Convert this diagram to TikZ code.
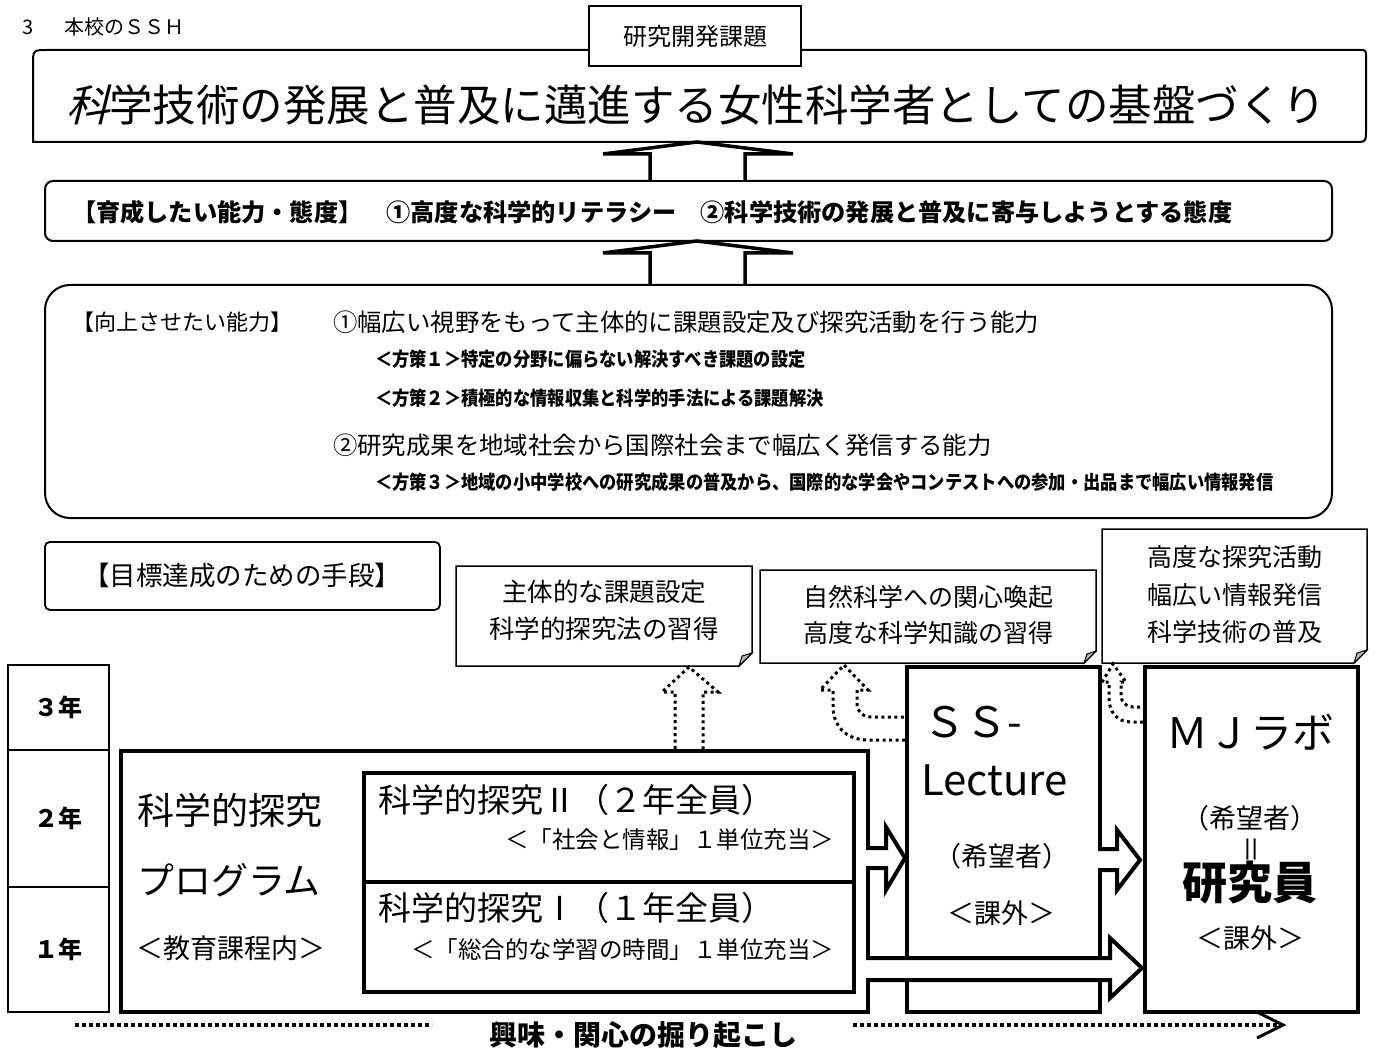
\documentclass[tikz,border=0pt]{standalone}
\usepackage{fontspec}
\setmainfont{Noto Sans CJK JP}
\newfontfamily\jpc[FakeStretch=0.9]{Noto Sans CJK JP}
\newfontfamily\jpsl[FakeSlant=0.25]{Noto Sans CJK JP}
\usetikzlibrary{calc}
\newcommand\fsz[1]{\fontsize{#1}{#1}\selectfont}
\tikzset{
  txt/.style={inner sep=0pt, outer sep=0pt},
  rbox/.style={draw, line width=2pt, anchor=north west, inner sep=0pt},
  yearbox/.style={draw, line width=1.5pt, anchor=north west, minimum width=101pt, inner sep=0pt},
  thickbox/.style={draw, line width=4pt, anchor=north west, inner sep=0pt},
  innerbox/.style={draw, line width=3.5pt, anchor=north west, inner sep=0pt, minimum width=490pt},
  callout/.style={draw, line width=1.5pt, fill=white, line join=miter},
  fold/.style={draw, line width=1pt, fill=black!30},
  hollow/.style={draw, line width=4pt, fill=white, line join=miter},
  uparrow/.style={draw, line width=3.5pt, fill=white, line join=miter},
  dotarrow/.style={draw, line width=3pt, dash pattern=on 3pt off 3.5pt},
  dotline/.style={draw, line width=4pt, dash pattern=on 4pt off 3pt},
}
\begin{document}
\begin{tikzpicture}[x=1pt,y=-1pt]
\useasboundingbox[fill=white] (0,0) rectangle (1377,1051);

% header
\node[txt,anchor=west,font=\fsz{20}] (h3) at (22,27) {3};
\node[txt,anchor=west,font=\fsz{20}] (hssh) at (64,27) {本校のＳＳＨ};

% title box
\draw[line width=2pt] (33,142) -- (33,65) .. controls (33,50) .. (48,50) -- (1359,50) .. controls (1366,50) .. (1366,57) -- (1366,130) .. controls (1366,142) .. (1354,142) -- cycle;
\node[draw,line width=1.5pt,fill=white,minimum width=212pt,minimum height=60pt,inner sep=0pt,font=\fsz{24}] (kadai) at (695,36) {研究開発課題};
\node[txt,anchor=west,font=\fsz{43.5}] (title) at (66,105) {{\jpsl 科}学技術の発展と普及に邁進する女性科学者としての基盤づくり};

% box 2
\node[rbox, rounded corners=8pt, minimum width=1287pt, minimum height=60pt] (ability) at (44,180) {};
\node[txt,anchor=west,font={\fsz{24.2}\bfseries}] (abilitytxt) at (72,212) {【育成したい能力・態度】　①高度な科学的リテラシー　②科学技術の発展と普及に寄与しようとする態度};

% up arrows
\draw[uparrow] (650,180) -- (650,154) -- (603,154) -- (697,142) -- (793,154) -- (745,154) -- (745,180);
\draw[uparrow] (650,284) -- (650,253) -- (603,253) -- (697,241) -- (793,253) -- (745,253) -- (745,284);

% box 3
\node[rbox, rounded corners=25pt, minimum width=1287pt, minimum height=233pt] (improve) at (44,284) {};
\node[txt,anchor=west,font=\fsz{22}] (imp0) at (72,322) {【向上させたい能力】};
\node[txt,anchor=west,font=\fsz{24.4}] (imp1) at (333,322) {①幅広い視野をもって主体的に課題設定及び探究活動を行う能力};
\node[txt,anchor=west,font={\jpc\bfseries\fsz{19.2}}] (pol1) at (375,359) {＜方策１＞特定の分野に偏らない解決すべき課題の設定};
\node[txt,anchor=west,font={\jpc\bfseries\fsz{19.2}}] (pol2) at (375,398) {＜方策２＞積極的な情報収集と科学的手法による課題解決};
\node[txt,anchor=west,font=\fsz{24.4}] (imp2) at (333,445) {②研究成果を地域社会から国際社会まで幅広く発信する能力};
\node[txt,anchor=west,font={\jpc\bfseries\fsz{19.2}}] (pol3) at (375,482) {＜方策３＞地域の小中学校への研究成果の普及から、国際的な学会やコンテストへの参加・出品まで幅広い情報発信};

% means box
\node[rbox, rounded corners=5pt, minimum width=395pt, minimum height=68pt, line width=1.8pt] (means) at (44,541) {};
\node[txt,font=\fsz{26.5}] (meanstxt) at (means.center) {【目標達成のための手段】};

% callouts
\draw[callout] (456,566) -- (752,566) -- (752,653) -- (739,666) -- (456,666) -- cycle;
\draw[fold] (752,653) -- (739,666) -- (742,656) -- cycle;
\node[txt,font=\fsz{25.5}] (c1a) at (604,592) {主体的な課題設定};
\node[txt,font=\fsz{25.5}] (c1b) at (604,629) {科学的探究法の習得};

\draw[callout] (760,570) -- (1096,570) -- (1096,651) -- (1084,663) -- (760,663) -- cycle;
\draw[fold] (1096,651) -- (1084,663) -- (1087,654) -- cycle;
\node[txt,font=\fsz{25}] (c2a) at (928,597) {自然科学への関心喚起};
\node[txt,font=\fsz{25}] (c2b) at (928,633) {高度な科学知識の習得};

\draw[callout] (1102,529) -- (1367,529) -- (1367,650) -- (1354,663) -- (1102,663) -- cycle;
\draw[fold] (1367,650) -- (1354,663) -- (1357,653) -- cycle;
\node[txt,font=\fsz{25}] (c3a) at (1235,557) {高度な探究活動};
\node[txt,font=\fsz{25}] (c3b) at (1235,595) {幅広い情報発信};
\node[txt,font=\fsz{25}] (c3c) at (1235,632) {科学技術の普及};

% year column
\node[yearbox, minimum height=85pt] (y3) at (7,664) {};
\node[yearbox, minimum height=137pt] (y2) at (7,749) {};
\node[yearbox, minimum height=125pt] (y1) at (7,886) {};
\node[txt,font={\fsz{24}\bfseries}] at (y3.center) {３年};
\node[txt,font={\fsz{24}\bfseries}] at (y2.center) {２年};
\node[txt,font={\fsz{24}\bfseries}] at (y1.center) {１年};

% program box
\node[thickbox, minimum width=747pt, minimum height=261pt] (prog) at (119,749) {};
\node[txt,anchor=west,font=\fsz{37}] (p1) at (137,810) {科学的探究};
\node[txt,anchor=west,font=\fsz{37}] (p2) at (137,880) {プログラム};
\node[txt,anchor=west,font=\fsz{27}] (p3) at (136,948) {＜教育課程内＞};

\node[innerbox, minimum height=109pt] (s2) at (362,771) {};
\node[innerbox, minimum height=110pt] (s1) at (362,880) {};
\node[txt,anchor=west,font=\fsz{33}] (s2a) at (378,800) {科学的探究Ⅱ（２年全員）};
\node[txt,anchor=east,font=\fsz{23.5}] (s2b) at (834,840) {＜「社会と情報」１単位充当＞};
\node[txt,anchor=west,font=\fsz{33}] (s1a) at (378,908) {科学的探究Ⅰ（１年全員）};
\node[txt,anchor=east,font=\fsz{23.5}] (s1b) at (834,950) {＜「総合的な学習の時間」１単位充当＞};

% SS-Lecture
\node[thickbox, minimum width=193pt, minimum height=345pt] (ss) at (905,665) {};
\node[txt,anchor=west,font=\fsz{42}] (ss1) at (923,722) {ＳＳ-};
\node[txt,anchor=west,font=\fsz{42}] (ss2) at (921,780) {Lecture};
\node[txt,font=\fsz{27}] (ss3) at (1002,856) {（希望者）};
\node[txt,font=\fsz{27}] (ss4) at (1001,913) {＜課外＞};

% MJ lab
\node[thickbox, minimum width=213pt, minimum height=345pt] (mj) at (1143,665) {};
\node[txt,font=\fsz{42}] (mj1) at (1250,732) {ＭＪラボ};
\node[txt,font=\fsz{27}] (mj2) at (1250,818) {（希望者）};
\node[txt,font={\fsz{20}\bfseries}] (mj3) at (1251,850) {\scalebox{2.2}[1.05]{‖}};
\node[txt,font={\fsz{45}\bfseries}] (mj4) at (1250,883) {研究員};
\node[txt,font=\fsz{27}] (mj5) at (1250,938) {＜課外＞};

% hollow right arrows
\draw[hollow] (866,848) -- (886,848) -- (886,827) -- (905,858) -- (886,890) -- (886,868) -- (866,868);
\draw[hollow] (1098,849) -- (1117,849) -- (1117,830) -- (1140,860) -- (1117,890) -- (1117,870) -- (1098,870);
\draw[hollow] (866,958) -- (1110,958) -- (1110,938) -- (1142,968) -- (1110,998) -- (1110,980) -- (866,980);

% dotted hollow arrows
\draw[dotarrow] (675,749) -- (675,692) -- (662,692) -- (689,667) -- (718,692) -- (703,692) -- (703,749);
\draw[dotarrow] (905,740) -- (868,740) .. controls (846,740) and (833,726) .. (833,706) -- (833,690) -- (820,690) -- (844,665) -- (868,690) -- (857,690) -- (857,704) .. controls (857,712) and (863,717) .. (872,717) -- (905,717);
\draw[dotarrow] (1143,722) -- (1131,722) .. controls (1117,722) and (1109,712) .. (1109,698) -- (1109,682) -- (1102,682) -- (1113,664) -- (1126,682) -- (1121,682) -- (1121,695) .. controls (1121,702) and (1126,707) .. (1133,707) -- (1143,707);

% bottom line
\coordinate (b0) at (75,1025);
\coordinate (b1) at (432,1025);
\coordinate (b2) at (853,1025);
\coordinate (b3) at (1281,1025);
\draw[dotline] (b0) -- (b1);
\draw[dotline] (b2) -- (b3);
\draw[line width=3pt, line join=miter] (1257,1012) -- (1283,1025) -- (1257,1038);
\node[txt,font={\fsz{28}\bfseries}] (interest) at (643,1035) {興味・関心の掘り起こし};
\end{tikzpicture}
\end{document}
